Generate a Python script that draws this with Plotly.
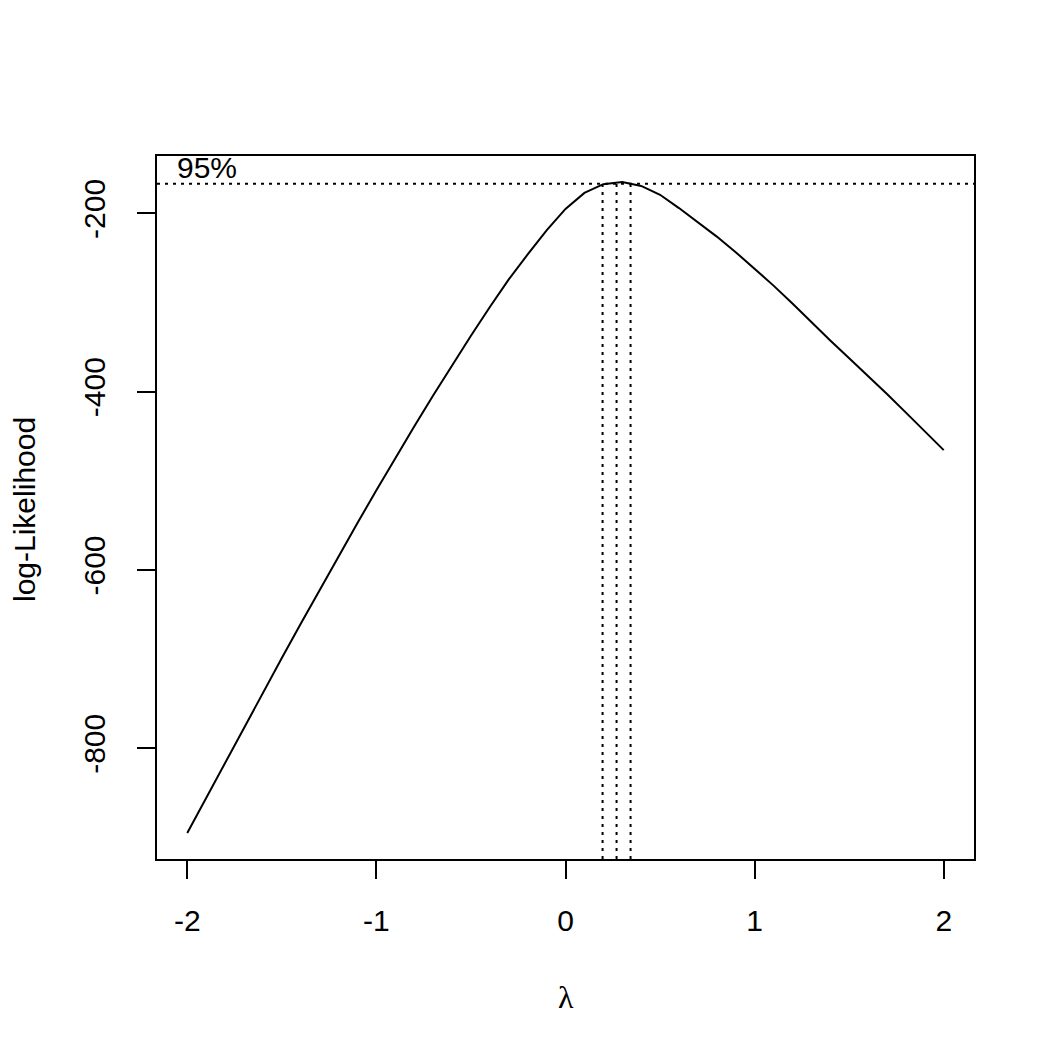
import plotly.graph_objects as go

# Profile log-likelihood of the Box-Cox parameter
lambdas = [-2.0, -1.9, -1.8, -1.7, -1.6, -1.5, -1.4, -1.3, -1.2, -1.1, -1.0,
           -0.9, -0.8, -0.7, -0.6, -0.5, -0.4, -0.3, -0.2, -0.1, 0.0,
           0.1, 0.2, 0.3, 0.4, 0.5, 0.6, 0.7, 0.8, 0.9, 1.0,
           1.1, 1.2, 1.3, 1.4, 1.5, 1.6, 1.7, 1.8, 1.9, 2.0]
loglik = [-895, -855.5, -816, -776.7, -737.6, -698.8, -660.3, -622.2, -584.5, -547.3, -510.6,
          -474.5, -439, -404.2, -370.2, -337.2, -305, -274, -246, -219, -195,
          -177, -167.2, -164.9, -169.2, -179.1, -194, -209.5, -226, -243.5, -262,
          -281, -301, -322, -342.5, -362.5, -382, -402.5, -423.5, -444.5, -465.5]
lambda_hat = 0.27
ci_lower = 0.196
ci_upper = 0.344
max_loglik = -164.8
ci_level = -166.7
x_ticks = [-2, -1, 0, 1, 2]
y_ticks = [-800, -600, -400, -200]

xmin, xmax = min(lambdas), max(lambdas)
ymin, ymax = min(loglik), max_loglik
xpad = 0.04 * (xmax - xmin)
ypad = 0.04 * (ymax - ymin)
xr = [xmin - xpad, xmax + xpad]
yr = [ymin - ypad, ymax + ypad]

font = "Liberation Sans, Arial, sans-serif"
fs = 30
fig = go.Figure()
fig.add_trace(go.Scatter(x=lambdas, y=loglik, mode="lines",
                         line=dict(color="black", width=2), showlegend=False,
                         hoverinfo="skip"))
dot = "3px,5px"
fig.add_trace(go.Scatter(x=xr, y=[ci_level, ci_level], mode="lines",
                         line=dict(color="black", width=2, dash=dot),
                         showlegend=False, hoverinfo="skip"))
for lx, top in [(ci_lower, ci_level), (lambda_hat, max_loglik), (ci_upper, ci_level)]:
    fig.add_trace(go.Scatter(x=[lx, lx], y=[yr[0], top], mode="lines",
                             line=dict(color="black", width=2, dash=dot),
                             showlegend=False, hoverinfo="skip"))

fig.add_annotation(x=xmin - 0.063, y=ci_level, xref="x", yref="y", text="95%",
                   showarrow=False, xanchor="left", yanchor="bottom", yshift=-2,
                   font=dict(family=font, size=fs, color="black"))
fig.add_annotation(x=0.5, y=-138 / 703, xref="paper", yref="paper", text="λ",
                   showarrow=False, xanchor="center", yanchor="middle",
                   font=dict(family="Liberation Serif, serif", size=32, color="black"))
fig.add_annotation(x=-(157 - 24) / 817, y=(859 - 510) / 703, xref="paper", yref="paper",
                   text="log-Likelihood", textangle=-90,
                   showarrow=False, xanchor="center", yanchor="middle",
                   font=dict(family=font, size=fs, color="black"))

axis_common = dict(showgrid=False, zeroline=False, showline=True, mirror=True,
                   linecolor="black", linewidth=2, ticks="outside", ticklen=18,
                   tickwidth=2, tickcolor="black",
                   tickfont=dict(family=font, size=fs, color="black"))
fig.update_xaxes(range=xr, tickvals=x_ticks, ticktext=[str(v) for v in x_ticks],
                 ticklabelstandoff=16, **axis_common)
fig.update_yaxes(range=yr, tickvals=y_ticks, ticktext=[str(v) for v in y_ticks],
                 tickangle=-90, ticklabelstandoff=20, **axis_common)
fig.update_layout(width=1056, height=1056, paper_bgcolor="white", plot_bgcolor="white",
                  margin=dict(l=149, r=90, t=148, b=205), showlegend=False)
fig.write_html("out.html")
